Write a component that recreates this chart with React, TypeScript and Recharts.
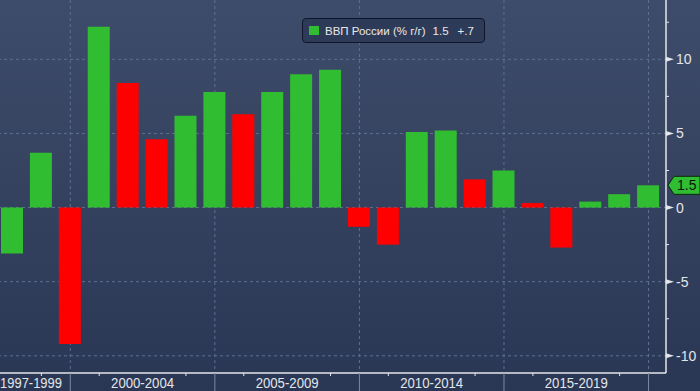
import React from "react";
import { BarChart, Bar, XAxis, YAxis, CartesianGrid, Cell } from "recharts";

// Annual GDP growth, % y/y
const years = [
  "1997", "1998", "1999", "2000", "2001", "2002", "2003", "2004", "2005", "2006", "2007", "2008",
  "2009", "2010", "2011", "2012", "2013", "2014", "2015", "2016", "2017", "2018", "2019",
];
const gdpGrowth = [
  -3.1, 3.7, -9.2, 12.2, 8.4, 4.6, 6.2, 7.8, 6.3, 7.8, 9.0, 9.3,
  -1.3, -2.5, 5.1, 5.2, 1.9, 2.5, 0.3, -2.7, 0.4, 0.9, 1.5,
];
const groupLabels = ["1997-1999", "2000-2004", "2005-2009", "2010-2014", "2015-2019"];
const groupEnds = ["1999", "2004", "2009", "2014", "2019"];
const minorTickYears = ["1998", "2000", "2003", "2005", "2008", "2010", "2013", "2015", "2018"];
const majorYTicks = [-10, -5, 0, 5, 10];
const minorYTicks = [-7.5, -2.5, 2.5, 7.5, 12.5];
const seriesName = "ВВП России (% г/г)";
const lastValueText = "1.5";
const lastChangeText = "+.7";

const W = 700;
const H = 391;
const Y_AXIS_W = 34;
const LEFT = -2;
const PAD_RIGHT = 3;
const X_AXIS_H = 18;
const BAND = (W - LEFT - Y_AXIS_W - PAD_RIGHT) / years.length;

const GREEN = "#31bd31";
const RED = "#ff0000";
const GRID = "#5f7090";
const AXIS = "#e4e6ea";
const TEXT = "#e4e6ea";
const FONT = "'Liberation Sans', Arial, sans-serif";

const data = years.map((year, i) => ({
  year,
  value: gdpGrowth[i],
  color: i === 0 || gdpGrowth[i] >= gdpGrowth[i - 1] ? GREEN : RED,
}));

const lastValue = gdpGrowth[gdpGrowth.length - 1];

// vertical dashed lines sit on the centre of each group's last year
const groupLinesX = groupEnds.map((g) => LEFT + (years.indexOf(g) + 0.5) * BAND);

const XTick = (props: any) => {
  const { x, y, payload } = props;
  const year = payload.value as string;
  const parts: React.ReactNode[] = [];
  if (minorTickYears.includes(year)) {
    parts.push(<line key="m" x1={x} x2={x} y1={y} y2={y + 3} stroke={AXIS} strokeWidth={1} />);
  }
  const gi = groupEnds.indexOf(year);
  if (gi >= 0) {
    parts.push(<line key="s" x1={x} x2={x} y1={y} y2={H} stroke="#7d89a2" strokeWidth={1} />);
  }
  if (gi === 0) {
    parts.push(
      <text key="t" x={0} y={y + 15} fill={TEXT} fontSize={15} fontFamily={FONT} textAnchor="start"
        textLength={62} lengthAdjust="spacingAndGlyphs">
        {groupLabels[0]}
      </text>
    );
  } else if (gi > 0) {
    parts.push(
      <text key="t" x={x - 2.5 * BAND - 31.5} y={y + 15} fill={TEXT} fontSize={15} fontFamily={FONT}
        textLength={63} lengthAdjust="spacingAndGlyphs">
        {groupLabels[gi]}
      </text>
    );
  }
  return <g>{parts}</g>;
};

const YTick = (props: any) => {
  const { x, y, payload } = props;
  const v = payload.value as number;
  if (v === lastValue) {
    return (
      <g>
        <polygon
          points={`${x + 2},${y} ${x + 8},${y - 9} ${W},${y - 9} ${W},${y + 9} ${x + 8},${y + 9}`}
          fill={GREEN}
          stroke="#0b2a0b"
          strokeWidth={1}
        />
        <text x={x + 11} y={y + 5} fill="#0a140a" fontSize={14} fontFamily={FONT}>
          {lastValueText}
        </text>
      </g>
    );
  }
  if (majorYTicks.includes(v)) {
    return (
      <g>
        <polygon points={`${x},${y - 2.5} ${x + 8},${y} ${x},${y + 2.5}`} fill={AXIS} />
        <text x={x + 10} y={y + 5} fill={TEXT} fontSize={14} fontFamily={FONT}>
          {v}
        </text>
      </g>
    );
  }
  return <line x1={x} x2={x + 3} y1={y} y2={y} stroke={AXIS} strokeWidth={1} />;
};

export default function App() {
  return (
    <div
      style={{
        position: "absolute",
        left: 0,
        top: 0,
        width: W,
        height: H,
        background: "linear-gradient(to bottom, #3e4c6b 0%, #34425f 50%, #2a3754 100%)",
        overflow: "hidden",
      }}
    >
      <BarChart
        width={W}
        height={H}
        data={data}
        margin={{ top: 0, right: 0, bottom: 0, left: LEFT }}
        barSize={22}
      >
        <CartesianGrid
          horizontal
          vertical
          horizontalValues={majorYTicks}
          verticalPoints={groupLinesX}
          stroke={GRID}
          strokeDasharray="3 3"
        />
        <XAxis
          dataKey="year"
          height={X_AXIS_H}
          interval={0}
          tickLine={false}
          tickSize={0}
          tickMargin={0}
          axisLine={{ stroke: AXIS, strokeWidth: 1.5 }}
          padding={{ left: 0, right: PAD_RIGHT }}
          tick={<XTick />}
        />
        <YAxis
          orientation="right"
          type="number"
          width={Y_AXIS_W}
          domain={[-11.16, 14]}
          allowDataOverflow
          ticks={[...majorYTicks, ...minorYTicks, lastValue]}
          interval={0}
          tickLine={false}
          tickSize={0}
          tickMargin={0}
          axisLine={{ stroke: AXIS, strokeWidth: 1.5 }}
          tick={<YTick />}
        />
        <Bar dataKey="value" isAnimationActive={false}>
          {data.map((d) => (
            <Cell key={d.year} fill={d.color} />
          ))}
        </Bar>
      </BarChart>
      <div
        style={{
          position: "absolute",
          left: 302,
          top: 18,
          width: 183,
          height: 25,
          boxSizing: "border-box",
          border: "1px solid #10162a",
          borderRadius: 4,
          background: "#2e3b58",
          fontFamily: FONT,
          fontSize: 11.5,
          color: "#e8e8e8",
          display: "flex",
          alignItems: "center",
        }}
      >
        <span style={{ display: "inline-block", width: 10, height: 9, background: GREEN, marginLeft: 6, marginRight: 6 }} />
        <span>{seriesName}</span>
        <span style={{ marginLeft: 7 }}>{lastValueText}</span>
        <span style={{ marginLeft: 9 }}>{lastChangeText}</span>
      </div>
    </div>
  );
}
